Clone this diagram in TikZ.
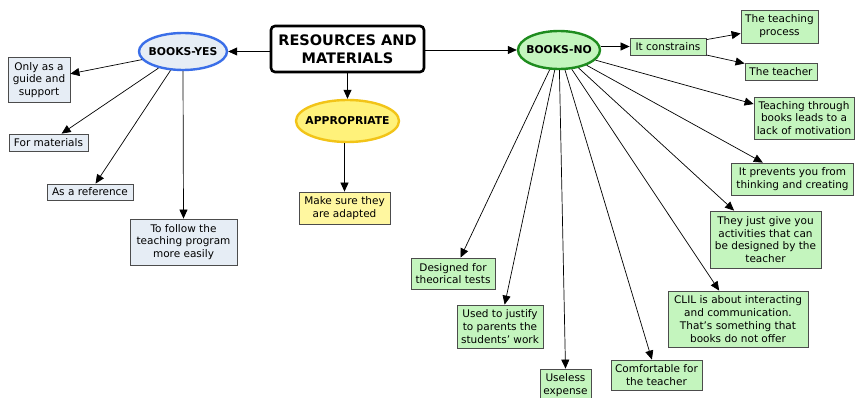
\documentclass[tikz,border=0pt]{standalone}
\usepackage{fontspec}
\setmainfont{DejaVu Sans}
\usetikzlibrary{shapes.geometric,arrows.meta}
\definecolor{yesfill}{HTML}{E6EDF5}
\definecolor{yesline}{HTML}{3A6EE8}
\definecolor{nofill}{HTML}{C4F5BE}
\definecolor{noline}{HTML}{1E8C1E}
\definecolor{apfill}{HTML}{FFF27A}
\definecolor{apline}{HTML}{F2C418}
\definecolor{mkfill}{HTML}{FFF7A0}
\begin{document}
\begin{tikzpicture}[x=1pt,y=-1pt,
  box/.style={draw=black!70, line width=0.8pt, align=center, inner sep=0.5pt,
    font=\fontsize{10.5}{12.8}\selectfont},
  yesbox/.style={box, fill=yesfill},
  nobox/.style={box, fill=nofill},
  oval/.style={ellipse, line width=2.4pt, inner sep=0pt,
    label={[font=\fontsize{10.8}{12}\selectfont\bfseries]center:#1}},
  arr/.style={-{Triangle[length=9pt,width=8pt]}, line width=0.7pt, black}
]
\useasboundingbox[fill=white] (0,0) rectangle (855,398);

% central nodes
\node[draw=black, line width=2.6pt, rounded corners=4pt, fill=white, minimum width=153, minimum height=46,
  align=center, font=\fontsize{14.5}{17.5}\selectfont\bfseries] (rm) at (347.5,49) {RESOURCES AND\\MATERIALS};
\node[oval=BOOKS-YES, draw=yesline, fill=yesfill, minimum width=88, minimum height=37] (yes) at (183,51.5) {};
\node[oval=BOOKS-NO, draw=noline, fill=nofill, minimum width=82, minimum height=38] (no) at (559,50) {};
\node[oval=APPROPRIATE, draw=apline, fill=apfill, minimum width=103, minimum height=42] (ap) at (347.5,121) {};
\node[box, fill=mkfill, minimum width=91, minimum height=32] (mk) at (344.5,208) {Make sure they\\are adapted};

% BOOKS-YES children
\node[yesbox, minimum width=62, minimum height=45] (y1) at (39,80) {Only as a\\guide and\\support};
\node[yesbox, minimum width=79, minimum height=17] (y2) at (48.5,142.5) {For materials};
\node[yesbox, minimum width=86, minimum height=16] (y3) at (90,192) {As a reference};
\node[yesbox, minimum width=107, minimum height=46] (y4) at (183.5,242) {To follow the\\teaching program\\more easily};

% BOOKS-NO children
\node[nobox, minimum width=76, minimum height=17] (c) at (668,46.5) {It constrains};
\node[nobox, minimum width=77, minimum height=33] (c1) at (779.5,26.5) {The teaching\\process};
\node[nobox, minimum width=72, minimum height=17] (c2) at (781,71.5) {The teacher};
\node[nobox, minimum width=100, minimum height=42] (n1) at (804,118) {Teaching through\\books leads to a\\lack of motivation};
\node[nobox, minimum width=122, minimum height=32] (n2) at (792.5,179) {It prevents you from\\thinking and creating};
\node[nobox, minimum width=111, minimum height=57] (n3) at (765.5,239.5) {They just give you\\activities that can\\be designed by the\\teacher};
\node[nobox, minimum width=140, minimum height=56] (n4) at (738,319) {CLIL is about interacting\\and communication.\\That's something that\\books do not offer};
\node[nobox, minimum width=91, minimum height=30] (n5) at (656.5,375) {Comfortable for\\the teacher};
\node[nobox, minimum width=51, minimum height=32] (n6) at (565.5,385) {Useless\\expense};
\node[nobox, minimum width=86, minimum height=43] (n7) at (500,326.5) {Used to justify\\to parents the\\students' work};
\node[nobox, minimum width=84, minimum height=31] (n8) at (453,273.5) {Designed for\\theorical tests};

% connectors
\draw[arr] (rm.west |- yes.east) -- (yes.east);
\draw[arr] (rm.east |- no.west) -- (no.west);
\draw[arr] (rm.south -| ap.north) -- (ap.north);
\draw[arr] (ap.south -| mk.north) -- (mk.north);

\draw[arr] (yes) -- (y1);
\draw[arr] (yes) -- (y2);
\draw[arr] (yes) -- (y3);
\draw[arr] (yes.south) -- (y4.north);

\draw[arr] (no.east |- c.west) -- (c.west);
\draw[arr] (c) -- (c1);
\draw[arr] (c) -- (c2);
\draw[arr] (no) -- (n1);
\draw[arr] (no) -- (n2);
\draw[arr] (no) -- (n3);
\draw[arr] (no) -- (n4);
\draw[arr] (no) -- (n5);
\draw[arr] (no) -- (n6.north);
\draw[arr] (no) -- (n7);
\draw[arr] (no) -- (n8);
\end{tikzpicture}
\end{document}
